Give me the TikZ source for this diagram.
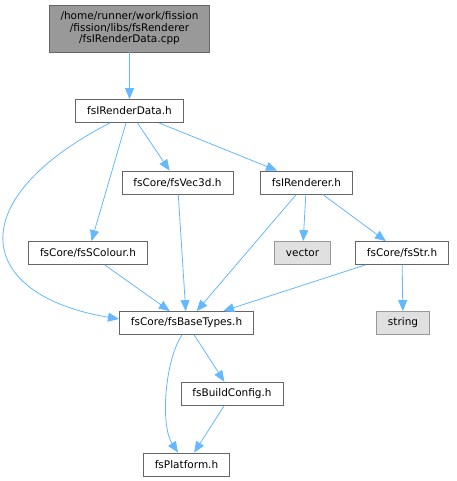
\documentclass[tikz,border=0pt]{standalone}
\usepackage{fontspec}
\setmainfont{DejaVu Sans}
\usetikzlibrary{arrows.meta}
\definecolor{edgeblue}{HTML}{63B8FF}
\definecolor{boxgrey}{HTML}{666666}
\definecolor{extgrey}{HTML}{999999}
\definecolor{extfill}{HTML}{E0E0E0}
\begin{document}
\begin{tikzpicture}[x=1pt,y=-1pt,>={Triangle[length=11pt,width=9pt]}]
    \tikzstyle{file}=[rectangle,draw=boxgrey,fill=white,line width=0.8pt,minimum height=23pt,inner xsep=11.5pt,font=\fontsize{10.5}{11.5}\selectfont]
    \tikzstyle{main}=[file,fill=extgrey,align=center,inner xsep=11pt,minimum height=47pt]
    \tikzstyle{ext}=[file,draw=extgrey,fill=extfill]
    \tikzstyle{dep}=[->,draw=edgeblue,line width=0.8pt]
    \useasboundingbox (0,0) rectangle (456,481);

    \node[main] (cpp) at (129.5,28.5) {/home/runner/work/fission\\/fission/libs/fsRenderer\\/fsIRenderData.cpp};
    \node[file] (rdata) at (129.5,111) {fsIRenderData.h};
    \node[file] (vec) at (177.5,182.5) {fsCore/fsVec3d.h};
    \node[file] (renderer) at (306.5,182.5) {fsIRenderer.h};
    \node[file] (scolour) at (88,253) {fsCore/fsSColour.h};
    \node[ext] (vector) at (302.5,253) {vector};
    \node[file] (str) at (402,253) {fsCore/fsStr.h};
    \node[file] (base) at (186.5,323) {fsCore/fsBaseTypes.h};
    \node[ext] (string) at (403,323) {string};
    \node[file] (build) at (232,393.5) {fsBuildConfig.h};
    \node[file] (platform) at (186.5,464.5) {fsPlatform.h};

    \foreach \from/\to in {cpp/rdata, rdata/scolour, rdata/vec, rdata/renderer, vec/base,
            renderer/base, renderer/vector, renderer/str, scolour/base, str/base,
            str/string, base/build, build/platform}
        \draw[dep] (\from) -- (\to);

    \draw[dep] ([xshift=-19.5pt]rdata.south) .. controls (-40,200) and (-25,295) .. ([yshift=4pt]base.west);
    \draw[dep] ([xshift=-4.5pt]base.south) .. controls (165,360) and (160,425) .. ([xshift=-8.5pt]platform.north);
\end{tikzpicture}
\end{document}
